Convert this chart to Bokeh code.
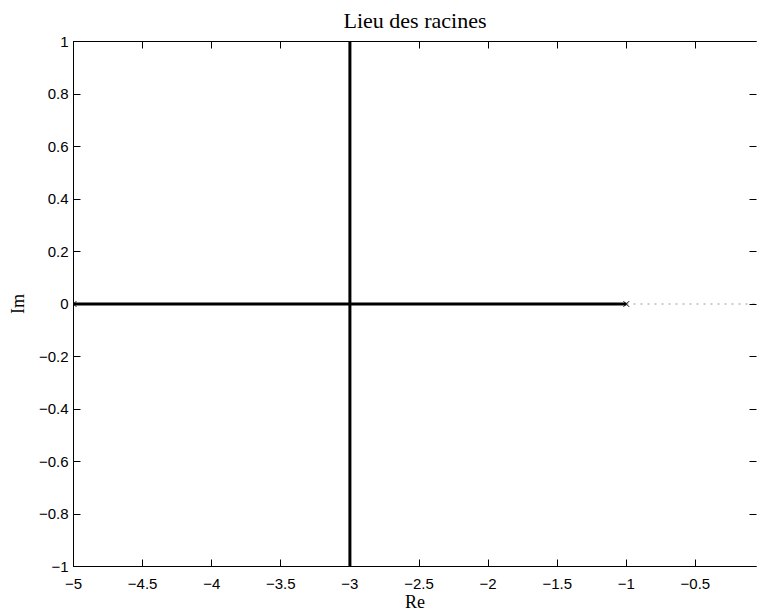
from bokeh.plotting import figure
from bokeh.models import Range1d, FixedTicker, LinearAxis, CustomLabelingPolicy
from bokeh.embed import file_html
from bokeh.resources import INLINE

# ---- data ----
x_ticks = [-5, -4.5, -4, -3.5, -3, -2.5, -2, -1.5, -1, -0.5, 0]
x_labels = ["\u22125", "\u22124.5", "\u22124", "\u22123.5", "\u22123", "\u22122.5",
            "\u22122", "\u22121.5", "\u22121", "\u22120.5", "0"]
y_ticks = [-1, -0.8, -0.6, -0.4, -0.2, 0, 0.2, 0.4, 0.6, 0.8, 1]
y_labels = ["\u22121", "\u22120.8", "\u22120.6", "\u22120.4", "\u22120.2", "0",
            "0.2", "0.4", "0.6", "0.8", "1"]

# root-locus branches (real and imaginary parts)
branch1_re = [-5, -3, -3]
branch1_im = [0, 0, 2]
branch2_re = [-1, -3, -3]
branch2_im = [0, 0, -2]
# open-loop poles
poles_re = [-5, -1]
poles_im = [0, 0]
# dotted real axis
axis_re = [-5, 0]
axis_im = [0, 0]

x_start, x_end = -5, -0.058
y_start, y_end = -1, 1

p = figure(width=761, height=614, output_backend="svg", toolbar_location=None,
           x_range=Range1d(x_start, x_end), y_range=Range1d(y_start, y_end),
           x_axis_type=None, y_axis_type=None,
           min_border_left=73, min_border_right=0, min_border_top=41, min_border_bottom=47,
           title="Lieu des racines")
p.background_fill_color = "white"
p.border_fill_color = "white"
p.outline_line_color = None
p.xgrid.visible = False
p.ygrid.visible = False

p.title.align = "center"
p.title.text_font = "Liberation Serif"
p.title.text_font_size = "22px"
p.title.text_font_style = "normal"
p.title.text_color = "black"
p.title.standoff = 10

no_labels = CustomLabelingPolicy(code="return new Set()")


def style_axis(ax, labels=True):
    ax.major_tick_in = 7
    ax.major_tick_out = 0
    ax.minor_tick_line_color = None
    ax.axis_line_color = "black"
    ax.axis_line_width = 1
    ax.major_tick_line_color = "black"
    ax.major_tick_line_width = 1
    if labels:
        ax.major_label_text_font = "Liberation Sans"
        ax.major_label_text_font_size = "15px"
        ax.major_label_text_color = "black"
        ax.axis_label_text_font = "Liberation Serif"
        ax.axis_label_text_font_size = "18px"
        ax.axis_label_text_font_style = "normal"
        ax.axis_label_text_color = "black"
    else:
        ax.major_label_policy = no_labels
        ax.major_label_text_font_size = "1px"
        ax.major_label_standoff = 0


xt = FixedTicker(ticks=x_ticks)
yt = FixedTicker(ticks=y_ticks)

bottom = LinearAxis(ticker=xt, axis_label="Re")
bottom.major_label_overrides = {t: l for t, l in zip(x_ticks, x_labels)}
style_axis(bottom)
bottom.major_label_standoff = 12
bottom.axis_label_standoff = 0
p.add_layout(bottom, "below")

left = LinearAxis(ticker=yt, axis_label="Im")
left.major_label_overrides = {t: l for t, l in zip(y_ticks, y_labels)}
style_axis(left)
left.major_label_standoff = 5
left.axis_label_standoff = 8
p.add_layout(left, "left")

top = LinearAxis(ticker=xt)
style_axis(top, labels=False)
p.add_layout(top, "above")

right = LinearAxis(ticker=yt)
style_axis(right, labels=False)
right.axis_line_color = None
p.add_layout(right, "right")

# dotted real axis
p.line(axis_re, axis_im, line_color="#9a9a9a", line_width=1, line_dash="2 5")
# locus branches
p.line(branch1_re, branch1_im, line_color="black", line_width=3)
p.line(branch2_re, branch2_im, line_color="black", line_width=3)
# poles
p.scatter(poles_re, poles_im, marker="x", size=8, line_color="black", line_width=1)

open("out.html", "w").write(file_html(p, INLINE))
